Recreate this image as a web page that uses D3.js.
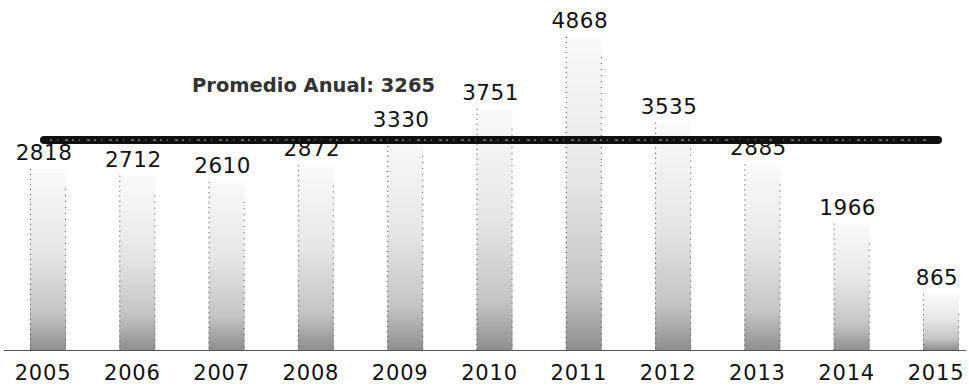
<!DOCTYPE html>
<html>
<head>
<meta charset="utf-8">
<script src="https://cdn.jsdelivr.net/npm/d3@7"></script>
<style>
  html, body { margin: 0; padding: 0; background: #fff; }
  svg { display: block; }
</style>
</head>
<body>
<svg id="chart" width="969" height="386"></svg>
<script>
const years = ["2005","2006","2007","2008","2009","2010","2011","2012","2013","2014","2015"];
const values = [2818, 2712, 2610, 2872, 3330, 3751, 4868, 3535, 2885, 1966, 865];
const averageValue = 3265;
const averageLabel = "Promedio Anual: 3265";

const svg = d3.select("#chart");
const baseY = 350;

const x = d3.scaleBand().domain(years).range([3.35, 985.65]).paddingInner(0.597).paddingOuter(0.2985);
const y = d3.scaleLinear().domain([0, 5443]).range([baseY, 0]);

const defs = svg.append("defs");
const grad = defs.append("linearGradient").attr("id", "barGrad").attr("x1", 0).attr("y1", 0).attr("x2", 0).attr("y2", 1);
grad.append("stop").attr("offset", "0%").attr("stop-color", "#fafafa");
grad.append("stop").attr("offset", "45%").attr("stop-color", "#e6e6e6");
grad.append("stop").attr("offset", "80%").attr("stop-color", "#c4c4c4");
grad.append("stop").attr("offset", "100%").attr("stop-color", "#8e8e8e");

// baseline
svg.append("line")
  .attr("x1", 4).attr("x2", 966).attr("y1", baseY + 0.5).attr("y2", baseY + 0.5)
  .attr("stroke", "#555").attr("stroke-width", 1.2);

// bars
const bars = svg.append("g");
bars.selectAll("rect.bar").data(values).join("rect")
  .attr("class", "bar")
  .attr("x", (d, i) => x(years[i]))
  .attr("width", x.bandwidth())
  .attr("y", d => y(d))
  .attr("height", d => baseY - y(d))
  .attr("fill", "url(#barGrad)");

// dotted edges
bars.selectAll("line.edgeL").data(values).join("line")
  .attr("class", "edgeL")
  .attr("x1", (d, i) => x(years[i]) + 0.5).attr("x2", (d, i) => x(years[i]) + 0.5)
  .attr("y1", d => y(d)).attr("y2", baseY)
  .attr("stroke", "#444").attr("stroke-width", 1).attr("stroke-dasharray", "1,4");
bars.selectAll("line.edgeR").data(values).join("line")
  .attr("class", "edgeR")
  .attr("x1", (d, i) => x(years[i]) + x.bandwidth() - 0.5).attr("x2", (d, i) => x(years[i]) + x.bandwidth() - 0.5)
  .attr("y1", d => y(d) + 20).attr("y2", baseY)
  .attr("stroke", "#555").attr("stroke-width", 1).attr("stroke-dasharray", "1,5");

// average line
svg.append("line")
  .attr("x1", 44).attr("x2", 938)
  .attr("y1", y(averageValue)).attr("y2", y(averageValue))
  .attr("stroke", "#111").attr("stroke-width", 8).attr("stroke-linecap", "round");
svg.append("line")
  .attr("x1", 50).attr("x2", 930)
  .attr("y1", y(averageValue)).attr("y2", y(averageValue))
  .attr("stroke", "#fff").attr("stroke-width", 1).attr("stroke-dasharray", "2,5,1,7,3,4")
  .attr("opacity", 0.7);

svg.append("text")
  .attr("x", 192).attr("y", 92)
  .attr("font-family", "DejaVu Sans")
  .attr("font-weight", "bold")
  .attr("font-size", 19)
  .attr("textLength", 243)
  .attr("lengthAdjust", "spacingAndGlyphs")
  .attr("fill", "#333")
  .text(averageLabel);

// value labels
svg.append("g").selectAll("text").data(values).join("text")
  .attr("x", (d, i) => x(years[i]) + x.bandwidth() / 2 - 4)
  .attr("y", d => y(d) - 9)
  .attr("text-anchor", "middle")
  .attr("font-family", "DejaVu Sans")
  .attr("font-size", 21.5)
  .attr("letter-spacing", 0.5)
  .attr("fill", "#111")
  .text(d => d);

// year labels
svg.append("g").selectAll("text").data(years).join("text")
  .attr("x", d => x(d) + x.bandwidth() / 2 - 5)
  .attr("y", 380)
  .attr("text-anchor", "middle")
  .attr("font-family", "DejaVu Sans")
  .attr("font-size", 21)
  .attr("letter-spacing", 0.8)
  .attr("fill", "#111")
  .text(d => d);
</script>
</body>
</html>
